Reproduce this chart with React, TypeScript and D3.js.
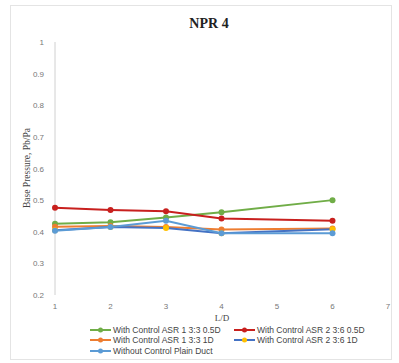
import React from "react";
import * as d3 from "d3";

const xValues = [1, 2, 3, 4, 6];
const seriesNames = [
  "With Control ASR 1 3:3 0.5D",
  "With Control ASR 2 3:6 0.5D",
  "With Control ASR 1 3:3 1D",
  "With Control ASR 2 3:6 1D",
  "Without Control Plain Duct",
];
const greenVals = [0.425, 0.43, 0.445, 0.462, 0.5];
const redVals = [0.476, 0.469, 0.465, 0.442, 0.435];
const orangeVals = [0.416, 0.418, 0.415, 0.407, 0.41];
const darkBlueVals = [0.405, 0.415, 0.412, 0.395, 0.408];
const lightBlueVals = [0.403, 0.415, 0.435, 0.395, 0.395];
const xTicks = [1, 2, 3, 4, 5, 6, 7];
const yTicks = [0.2, 0.3, 0.4, 0.5, 0.6, 0.7, 0.8, 0.9, 1];

const series = [
  { name: seriesNames[0], values: greenVals, line: "#70AD47", marker: "#70AD47" },
  { name: seriesNames[1], values: redVals, line: "#C8201E", marker: "#C8201E" },
  { name: seriesNames[2], values: orangeVals, line: "#ED7D31", marker: "#ED7D31" },
  { name: seriesNames[3], values: darkBlueVals, line: "#4472C4", marker: "#FFC000" },
  { name: seriesNames[4], values: lightBlueVals, line: "#5B9BD5", marker: "#5B9BD5" },
];

export default function App() {
  const W = 399, H = 363;
  const x = d3.scaleLinear().domain([1, 7]).range([55, 388]);
  const y = d3.scaleLinear().domain([0.2, 1]).range([295, 42]);
  const line = d3.line<number>().x((_, i) => x(xValues[i])).y((d) => y(d));
  const legendPos = [
    { lx: 90, ly: 330 },
    { lx: 234, ly: 330 },
    { lx: 90, ly: 340 },
    { lx: 234, ly: 340 },
    { lx: 90, ly: 351 },
  ];
  return (
    <svg width={W} height={H} style={{ position: "absolute", left: 0, top: 0 }}>
      <rect x={0} y={0} width={W} height={H} fill="#fff" />
      <rect x={10.5} y={5.5} width={381} height={354} fill="#fff" stroke="#e4e4e4" />
      <text x={209} y={28} textAnchor="middle" fontFamily="Liberation Serif" fontWeight="bold" fontSize={14} fill="#222">NPR 4</text>
      <line x1={x(1)} x2={x(1)} y1={y(1)} y2={y(0.2)} stroke="#d0d0d0" />
      {yTicks.map((t) => (
        <text key={t} x={44} y={y(t) + 3} textAnchor="end" fontFamily="Liberation Sans" fontSize={8} fill="#777">{d3.format("")(+t.toFixed(1))}</text>
      ))}
      {xTicks.map((t) => (
        <text key={t} x={x(t)} y={309} textAnchor="middle" fontFamily="Liberation Sans" fontSize={8} fill="#777">{t}</text>
      ))}
      <text transform={`translate(30,168) rotate(-90)`} textAnchor="middle" fontFamily="Liberation Serif" fontSize={9.5} fill="#444">Base Pressure, Pb/Pa</text>
      <text x={222} y={321} textAnchor="middle" fontFamily="Liberation Serif" fontSize={9} fill="#444">L/D</text>
      {series.map((s) => (
        <g key={s.name}>
          <path d={line(s.values) || ""} fill="none" stroke={s.line} strokeWidth={2} />
          {s.values.map((v, i) => (
            <circle key={i} cx={x(xValues[i])} cy={y(v)} r={3} fill={s.marker} />
          ))}
        </g>
      ))}
      {series.map((s, i) => {
        const p = legendPos[i];
        return (
          <g key={s.name}>
            <line x1={p.lx} x2={p.lx + 21} y1={p.ly} y2={p.ly} stroke={s.line} strokeWidth={2} />
            <circle cx={p.lx + 10.5} cy={p.ly} r={2.5} fill={s.marker} />
            <text x={p.lx + 23} y={p.ly + 3} fontFamily="Liberation Sans" fontSize={8.5} fill="#444">{s.name}</text>
          </g>
        );
      })}
    </svg>
  );
}
